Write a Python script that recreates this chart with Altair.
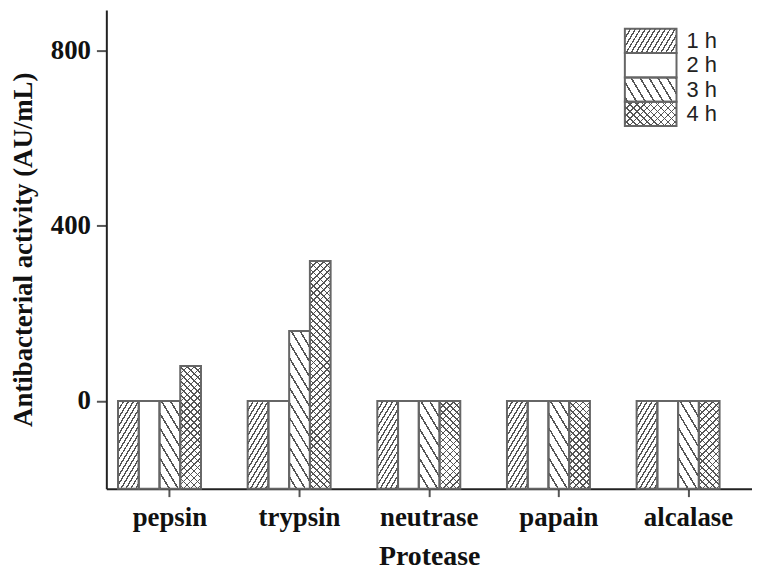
import altair as alt

# ---------------- data ----------------
proteases = ["pepsin", "trypsin", "neutrase", "papain", "alcalase"]
series = ["1 h", "2 h", "3 h", "4 h"]
act_1h = [0, 0, 0, 0, 0]
act_2h = [0, 0, 0, 0, 0]
act_3h = [0, 160, 0, 0, 0]
act_4h = [80, 320, 0, 0, 0]
y_ticks = [0, 400, 800]

# ---------------- layout constants ----------------
W, H = 650, 482
Y_MIN, Y_MAX = -200, 893
PAD_IN, PAD_OUT = 0.2, 0.09
N_SLOTS = 5  # 4 bars + 1 empty slot (tick sits on the 3rd bar, as in the original)
step = W / (len(proteases) - PAD_IN + 2 * PAD_OUT)
bar_w = step * (1 - PAD_IN) / N_SLOTS
px_per_unit = H / (Y_MAX - Y_MIN)

LINE = "#555555"
CLEAR = "rgba(255,255,255,0)"
SERIF = "Liberation Serif"
SANS = "Liberation Sans"

HATCH = {
    # series: list of (direction, period px, line fraction, steepness s)
    "1 h": [("/", 5.0, 0.32, 0.6)],
    "2 h": [],
    "3 h": [("\\", 9.0, 0.2, 0.6)],
    "4 h": [("/", 7.0, 0.22, 1.0), ("\\", 7.0, 0.22, 1.0)],
}


def hatch(w, h, direction, period, frac, s):
    """Linear gradient with hard stops giving parallel stripes x + s*y = c."""
    k = (w + s * h) / (w ** 2 + s ** 2 * h ** 2)
    a, b = k * w, k * s * h
    n = (w + s * h) / period
    stops = []
    i = 0
    while i < n:
        o0 = i / n
        o1 = min((i + frac) / n, 1.0)
        o2 = min((i + 1) / n, 1.0)
        stops += [
            {"offset": o0, "color": LINE},
            {"offset": o1, "color": LINE},
            {"offset": o1, "color": CLEAR},
            {"offset": o2, "color": CLEAR},
        ]
        i += 1
    if direction == "/":
        x1, y1, x2, y2 = 0, 0, a, b
    else:
        x1, y1, x2, y2 = 1, 0, 1 - a, b
    return {"gradient": "linear", "x1": x1, "y1": y1, "x2": x2, "y2": y2, "stops": stops}


values_by_series = {"1 h": act_1h, "2 h": act_2h, "3 h": act_3h, "4 h": act_4h}
rows = []
for s_name in series:
    for p, v in zip(proteases, values_by_series[s_name]):
        h = (v - Y_MIN) * px_per_unit
        row = {"protease": p, "series": s_name, "value": v}
        hs = HATCH[s_name]
        row["g1"] = hatch(bar_w, h, *hs[0]) if len(hs) > 0 else CLEAR
        row["g2"] = hatch(bar_w, h, *hs[1]) if len(hs) > 1 else CLEAR
        rows.append(row)

LEG_W, LEG_H = 52, 24.5
leg_rows = []
for s_name in series:
    hs = HATCH[s_name]
    leg_rows.append({
        "series": s_name,
        "g1": hatch(LEG_W, LEG_H, *hs[0]) if len(hs) > 0 else CLEAR,
        "g2": hatch(LEG_W, LEG_H, *hs[1]) if len(hs) > 1 else CLEAR,
    })

bar_data = alt.Data(values=rows)
leg_data = alt.Data(values=leg_rows)

x_enc = alt.X(
    "protease:N",
    sort=proteases,
    scale=alt.Scale(paddingInner=PAD_IN, paddingOuter=PAD_OUT),
    axis=alt.Axis(
        title="Protease", labelAngle=0, labelFont=SERIF, labelFontWeight="bold",
        labelFontSize=27, labelColor="#111", labelPadding=8,
        titleFont=SERIF, titleFontWeight="bold", titleFontSize=28, titleColor="#111",
        titlePadding=12, tickSize=8, tickWidth=2, tickColor=LINE,
        domainColor="#222", domainWidth=2,
    ),
)
x_off = alt.XOffset(
    "series:N",
    scale=alt.Scale(domain=series + [" "], paddingInner=0, paddingOuter=0),
)
y_scale = alt.Scale(domain=[Y_MIN, Y_MAX], nice=False, zero=False)
y_enc = alt.Y(
    "value:Q",
    scale=y_scale,
    axis=alt.Axis(
        title="Antibacterial activity (AU/mL)", values=y_ticks, grid=False,
        labelFont=SERIF, labelFontWeight="bold", labelFontSize=27, labelColor="#111",
        labelPadding=6, titleFont=SERIF, titleFontWeight="bold", titleFontSize=27,
        titleColor="#111", titlePadding=13, tickSize=10, tickWidth=2,
        tickColor=LINE, domainColor="#222", domainWidth=2,
    ),
)
y2_enc = alt.Y2(datum=Y_MIN)

base = alt.Chart(bar_data)
white = base.mark_bar(fill="white", strokeWidth=0).encode(
    x=x_enc, xOffset=x_off, y=y_enc, y2=y2_enc
)
h1 = base.mark_bar(strokeWidth=0).encode(
    x=x_enc, xOffset=x_off, y=y_enc, y2=y2_enc,
    fill=alt.Fill("g1:N", scale=None),
)
h2 = base.mark_bar(strokeWidth=0).encode(
    x=x_enc, xOffset=x_off, y=y_enc, y2=y2_enc,
    fill=alt.Fill("g2:N", scale=None),
)
outline = base.mark_bar(fillOpacity=0, stroke="#666666", strokeWidth=2).encode(
    x=x_enc, xOffset=x_off, y=y_enc, y2=y2_enc
)
main = alt.layer(white, h1, h2, outline)

# ---------------- legend ----------------
leg_y = alt.Y(
    "series:N", sort=series, axis=None,
    scale=alt.Scale(domain=series, range=[19, 117], paddingInner=0, paddingOuter=0),
)
lbase = alt.Chart(leg_data)
lx = dict(x=alt.value(522), x2=alt.value(574))
l_white = lbase.mark_rect(fill="white", strokeWidth=0).encode(y=leg_y, **lx)
l_h1 = lbase.mark_rect(strokeWidth=0).encode(y=leg_y, fill=alt.Fill("g1:N", scale=None), **lx)
l_h2 = lbase.mark_rect(strokeWidth=0).encode(y=leg_y, fill=alt.Fill("g2:N", scale=None), **lx)
l_out = lbase.mark_rect(fillOpacity=0, stroke="#666666", strokeWidth=2).encode(y=leg_y, **lx)
l_txt = lbase.mark_text(
    align="left", baseline="middle", font=SANS, fontSize=22, color="#222"
).encode(y=leg_y, x=alt.value(584), text="series:N")
legend = alt.layer(l_white, l_h1, l_h2, l_out, l_txt)

chart = (
    alt.layer(main, legend)
    .resolve_scale(y="independent")
    .properties(
        width=W, height=H,
        autosize=alt.AutoSizeParams(type="none"),
        padding={"left": 99, "top": 0, "right": 0, "bottom": 82},
        background="white",
    )
    .configure_view(stroke=None)
)

chart.save("out.html", embed_options={"renderer": "svg", "actions": False})
